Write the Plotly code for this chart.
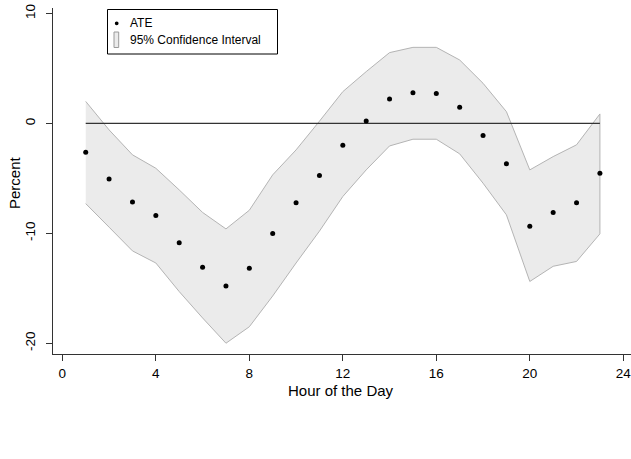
import plotly.graph_objects as go

hours = list(range(1, 24))
ate = [-2.62, -5.05, -7.14, -8.38, -10.86, -13.08, -14.8, -13.17, -10.02, -7.23,
       -4.74, -1.98, 0.23, 2.23, 2.80, 2.71, 1.47, -1.11, -3.68, -9.35, -8.11, -7.23, -4.53]
ci_upper = [2.0, -0.59, -2.86, -4.08, -6.05, -8.1, -9.6, -7.9, -4.68, -2.41,
            0.2, 2.89, 4.71, 6.44, 6.92, 6.92, 5.77, 3.65, 1.07, -4.23, -3.02, -1.95, 0.86]
ci_lower = [-7.3, -9.44, -11.6, -12.7, -15.3, -17.7, -20.0, -18.5, -15.7, -12.7,
            -9.8, -6.65, -4.23, -2.05, -1.44, -1.44, -2.77, -5.44, -8.32, -14.38, -13.0, -12.56, -10.05]
x_ticks = [0, 4, 8, 12, 16, 20, 24]
y_ticks = [-20, -10, 0, 10]
legend_labels = ["ATE", "95% Confidence Interval"]

FONT = "Liberation Sans, Arial, sans-serif"
W, H = 631, 459
ML, MR, MT, MB = 53, 0, 8, 105
PW, PH = W - ML - MR, H - MT - MB


def px(x):
    return (x - ML) / PW


def py(y):
    return 1 - (y - MT) / PH


fig = go.Figure()

fig.add_trace(go.Scatter(
    x=hours + hours[::-1],
    y=ci_upper + ci_lower[::-1],
    fill="toself", fillcolor="#EBEBEB",
    line=dict(color="#B4B4B4", width=1),
    mode="lines", name=legend_labels[1], showlegend=False, hoverinfo="skip",
))

fig.add_trace(go.Scatter(
    x=[hours[0], hours[-1]], y=[0, 0], mode="lines",
    line=dict(color="#333333", width=1.2), showlegend=False, hoverinfo="skip",
))

fig.add_trace(go.Scatter(
    x=hours, y=ate, mode="markers",
    marker=dict(color="black", size=5),
    name=legend_labels[0], showlegend=False,
))

# manual legend (R-style)
shapes = [
    dict(type="rect", xref="paper", yref="paper",
         x0=px(107.5), x1=px(277.5), y0=py(54), y1=py(9.5),
         line=dict(color="black", width=1), fillcolor="white", layer="above"),
    dict(type="circle", xref="paper", yref="paper",
         x0=px(114.8), x1=px(118.6), y0=py(25.2), y1=py(21.4),
         line=dict(color="black", width=0), fillcolor="black", layer="above"),
    dict(type="rect", xref="paper", yref="paper",
         x0=px(114), x1=px(118.7), y0=py(47.5), y1=py(32),
         line=dict(color="#9A9A9A", width=1), fillcolor="#EBEBEB", layer="above"),
]
annotations = [
    dict(text=legend_labels[0], xref="paper", yref="paper", x=px(127.5), y=py(23.3),
         xanchor="left", yanchor="middle", showarrow=False,
         font=dict(size=12, family=FONT, color="black")),
    dict(text=legend_labels[1], xref="paper", yref="paper", x=px(127.5), y=py(40),
         xanchor="left", yanchor="middle", showarrow=False,
         font=dict(size=12, family=FONT, color="black")),
    dict(text="Hour of the Day", xref="paper", yref="paper", x=px(341), y=py(390),
         xanchor="center", yanchor="middle", showarrow=False,
         font=dict(size=15, family=FONT, color="black")),
    dict(text="Percent", xref="paper", yref="paper", x=px(14), y=py(182),
         xanchor="center", yanchor="middle", showarrow=False, textangle=-90,
         font=dict(size=15, family=FONT, color="black")),
]

fig.update_layout(
    width=W, height=H,
    margin=dict(l=ML, r=MR, t=MT, b=MB),
    paper_bgcolor="white", plot_bgcolor="white",
    font=dict(family=FONT, color="black", size=13),
    showlegend=False,
    shapes=shapes, annotations=annotations,
    xaxis=dict(
        range=[-0.4, 24.33], tickvals=x_ticks, ticktext=[str(v) for v in x_ticks],
        showgrid=False, zeroline=False, showline=True, linecolor="#333333", linewidth=1,
        ticks="outside", ticklen=6, tickcolor="#333333", automargin=False,
        tickfont=dict(size=13.5), ticklabelstandoff=1, ticklabeloverflow="allow",
    ),
    yaxis=dict(
        range=[-20.98, 10.5], tickvals=y_ticks, ticktext=[str(v) for v in y_ticks],
        showgrid=False, zeroline=False, showline=True, linecolor="#333333", linewidth=1,
        ticks="outside", ticklen=6, tickcolor="#333333", tickangle=-90, automargin=False,
        tickfont=dict(size=13.5), ticklabelstandoff=6, ticklabeloverflow="allow",
    ),
)

fig.write_html("out.html", config={"displayModeBar": False},
               post_script="document.body.style.margin='0';")
